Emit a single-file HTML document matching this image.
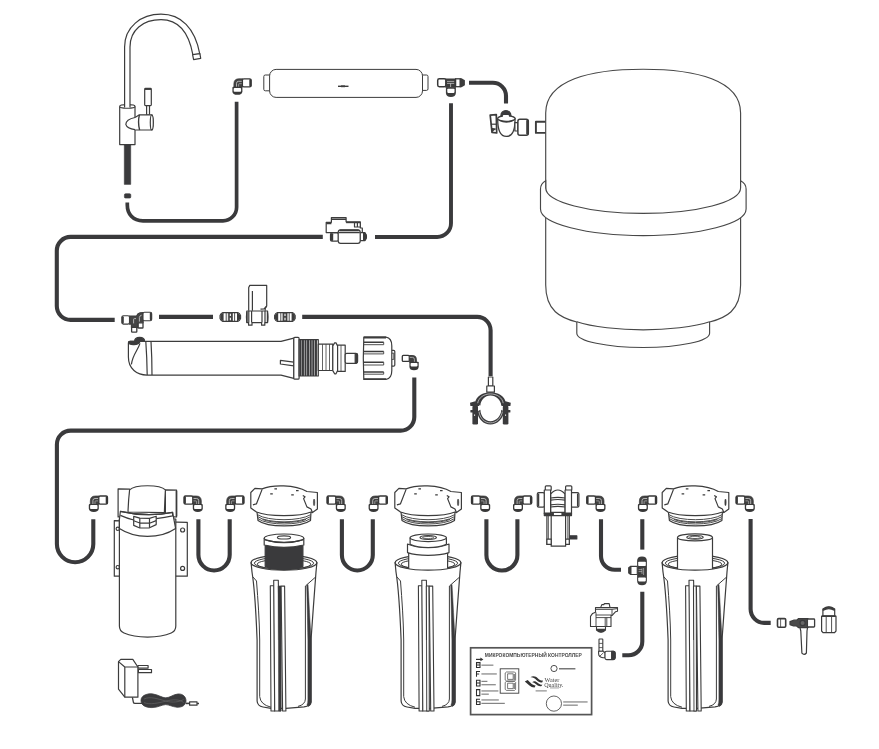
<!DOCTYPE html>
<html><head><meta charset="utf-8"><title>RO system diagram</title>
<style>html,body{margin:0;padding:0;background:#fff;font-family:"Liberation Sans",sans-serif}svg{display:block}</style>
</head><body>
<svg width="879" height="749" viewBox="0 0 879 749">
<rect width="879" height="749" fill="#fff"/>
<defs>
<filter id="gs" x="-5%" y="-20%" width="110%" height="140%"><feColorMatrix type="saturate" values="0"/></filter>
<g id="elb">
 <path d="M1.9,9.4 V5.8 Q1.9,.8 7,.8 H10.8 V9 H9.8 V9.4 Z" fill="#424242" stroke="#383838" stroke-width=".7" stroke-linejoin="round"/>
 <path d="M4.5,8.8 V5.4 Q4.5,3.3 6.6,3.3 H10.2" fill="none" stroke="#cfcfcf" stroke-width=".8"/>
 <path d="M6.6,8.8 V6.5 Q6.6,5.7 7.4,5.7 H10.2" fill="none" stroke="#b5b5b5" stroke-width=".7"/>
 <rect x="10.4" y=".8" width="8.7" height="8.1" rx="1.4" fill="#fff" stroke="#363636" stroke-width="1.3"/>
 <rect x="17.3" y="1" width="2.2" height="7.7" rx=".9" fill="#363636"/>
 <path d="M.4,9.7 Q.4,8.7 1.4,8.7 H9.4 Q10.4,8.7 10.4,9.7 V13.4 Q10.2,16.8 5.4,16.8 Q.6,16.8 .4,13.4 Z" fill="#383838"/>
 <rect x="1.7" y="9.9" width="7.4" height="3.9" rx=".8" fill="#fff"/>
</g>
</defs>
<path d="M127.3,202.6 V205 C127.3,214 133,220.8 143,220.8 H223 A13.6,13.6 0 0 0 236.6,207.2 V101.8" fill="none" stroke="#3a3a3c" stroke-width="3.7"/>
<path d="M451,103.3 V223.2 A13.8,13.8 0 0 1 437.2,237 H375" fill="none" stroke="#3a3a3c" stroke-width="3.9"/>
<path d="M469,82.8 H492.8 A13.2,13.2 0 0 1 506,96 V103.6" fill="none" stroke="#3a3a3c" stroke-width="4.1"/>
<path d="M322.8,236.9 H70.6 A13.8,13.8 0 0 0 56.8,250.7 V306.1 A13.8,13.8 0 0 0 70.6,319.9 H114.7" fill="none" stroke="#3a3a3c" stroke-width="4.1"/>
<path d="M159,316.9 H213" fill="none" stroke="#3a3a3c" stroke-width="4.1"/>
<path d="M302.2,316.9 H477.2 A13.4,13.4 0 0 1 490.6,330.3 V376" fill="none" stroke="#3a3a3c" stroke-width="4.1"/>
<path d="M414.3,377.5 V417 A13.6,13.6 0 0 1 400.7,430.6 H70.7 A13.8,13.8 0 0 0 56.9,444.4 V544 A18.2,18.2 0 0 0 93.3,544 V519.2" fill="none" stroke="#3a3a3c" stroke-width="4.1"/>
<path d="M198.4,519.2 V554.8 A15.65,15.65 0 0 0 229.7,554.8 V519.2" fill="none" stroke="#3a3a3c" stroke-width="4.1"/>
<path d="M341.9,519.2 V555 A15.45,15.45 0 0 0 372.8,555 V519.2" fill="none" stroke="#3a3a3c" stroke-width="4.1"/>
<path d="M486.4,519.2 V555 A15.5,15.5 0 0 0 517.4,555 V519.2" fill="none" stroke="#3a3a3c" stroke-width="4.1"/>
<path d="M601,519.2 V556 A13.8,13.8 0 0 0 614.8,569.8 H621" fill="none" stroke="#3a3a3c" stroke-width="4.1"/>
<path d="M642.3,519.2 V549.6" fill="none" stroke="#3a3a3c" stroke-width="4.1"/>
<path d="M642.3,591.8 V641.5 A13.8,13.8 0 0 1 628.5,655.3 H622.3" fill="none" stroke="#3a3a3c" stroke-width="4.1"/>
<path d="M750.6,519 V609.1 A13.8,13.8 0 0 0 764.4,622.9 H770.7" fill="none" stroke="#3a3a3c" stroke-width="4.1"/>
<g fill="#fff" stroke="#3c3c3c" stroke-width="1.2" stroke-linejoin="round">
<path d="M119.7,106.5 V144.6 H135 V106.5"/>
<ellipse cx="127.35" cy="106.4" rx="7.65" ry="1.7"/>
<path d="M124.6,107.4 V47 C124.6,27 141,14.2 161,14.2 C181,14.2 195,28 199.8,54 L192.9,54.9 C188.5,31 177,19.7 161,19.7 C143,19.7 130,30 130,47 V107.4" />
<path d="M192.6,54.6 L199.9,53.6 L200.7,58.4 L193.6,59.6 Z"/>
<rect x="144.7" y="88.4" width="6.6" height="17.2" rx=".8"/>
<path d="M145,89.2 H151" stroke-width="1.5"/>
<rect x="146.6" y="105.6" width="2.9" height="9.6"/>
<path d="M135,117.5 L139.4,114.8 H152 Q154.2,122 152,130 H135"/>
<ellipse cx="151.8" cy="122.4" rx="1.5" ry="7.4"/>
<path d="M139.4,114.8 Q137.6,122 139.6,130" fill="none" stroke-width="1.4"/>
<path d="M135,117.5 Q126,119.4 125.8,124.4 Q127,128.6 135,129.6" />
<rect x="124.3" y="145" width="6.4" height="39.4" fill="#3a3a3c" stroke="#3a3a3c" stroke-width=".6"/>
<rect x="124.4" y="193.7" width="6.4" height="4.4" rx="1.2" fill="#3a3a3c" stroke="#3a3a3c" stroke-width=".6"/>
</g>
<use href="#elb" transform="translate(232,78)"/>
<use href="#elb" transform="translate(88.4,495.2)"/>
<use href="#elb" transform="translate(203.2,495.2) scale(-1,1)"/>
<use href="#elb" transform="translate(224.8,495.2)"/>
<use href="#elb" transform="translate(346.20000000000005,495.2) scale(-1,1)"/>
<use href="#elb" transform="translate(368.2,495.2)"/>
<use href="#elb" transform="translate(490.6,495.2) scale(-1,1)"/>
<use href="#elb" transform="translate(512.6,495.2)"/>
<use href="#elb" transform="translate(605.9,495.2) scale(-1,1)"/>
<use href="#elb" transform="translate(637.5,495.2)"/>
<use href="#elb" transform="translate(755.2,495.2) scale(-1,1)"/>
<g fill="#fff" stroke="#3c3c3c" stroke-width="1">
<rect x="263.8" y="75" width="8" height="15.8" rx="1.5"/>
<rect x="420" y="75" width="8" height="15.4" rx="1.5"/>
<rect x="269.6" y="69.4" width="152.9" height="28" rx="6.5"/>
<path d="M338,86.3 H348.5" stroke-width="1.4"/><rect x="341" y="85.4" width="4" height="1.8" fill="#3c3c3c" stroke="none"/>
</g>
<g>
<rect x="437.7" y="78.8" width="8.2" height="7.9" rx="1.6" fill="#fff" stroke="#383838" stroke-width="1.5"/>
<rect x="445.4" y="78.5" width="10.4" height="9.4" fill="#3c3c3c"/>
<path d="M447,81.4 H454.2 M447,83.4 H454.2 M450.6,83.4 V87" stroke="#d5d5d5" stroke-width=".7" fill="none"/>
<rect x="455.6" y="78.8" width="4.6" height="7.9" fill="#fff" stroke="#383838" stroke-width="1.3"/>
<path d="M459.9,78.3 H461.6 L464.9,80.3 V85.3 L461.6,87.3 H459.9 Z" fill="#3c3c3c"/>
<path d="M445.9,87.6 H455.9 V93 Q455.6,96.9 450.9,96.9 Q446.2,96.9 445.9,93 Z" fill="#3c3c3c"/>
<rect x="447.3" y="88.8" width="7.2" height="4.1" rx=".8" fill="#fff"/>
</g>
<g fill="#fff" stroke="#3c3c3c" stroke-width="1.2" stroke-linejoin="round">
<path d="M490.2,115.2 L496.3,114.6 L496.7,133 L492,132.3 Z" stroke-width="1.7"/>
<path d="M490.8,124.2 H496.6" stroke-width="1.2"/>
<path d="M495.8,129 L492.2,128.6 L492.6,131.8" fill="#3c3c3c"/>
<path d="M500.9,118 V115.5 A5,5 0 0 1 510.9,115.5 V118 Z" fill="#3a3a3c"/>
<path d="M497.7,118.5 Q497.5,136.4 506.4,136.4 Q515.3,136.4 515,118.5 Z" stroke-width="1.3"/>
<ellipse cx="506.4" cy="118.6" rx="8.7" ry="2.7"/>
<rect x="502.8" y="115" width="6.2" height="2.6" rx="1" stroke="none"/>
<path d="M499.2,120.2 Q506.4,123.8 513.6,120.2" fill="none" stroke-width="1.5"/>
<rect x="514.9" y="122.7" width="3" height="8.3"/>
<rect x="517.9" y="119.3" width="10.4" height="16" rx="2" stroke-width="1.5"/>
<rect x="526.2" y="119.8" width="2.6" height="15" rx="1.2" fill="#3c3c3c" stroke="none"/>
<path d="M546.5,121.7 H535.9 V132.9 H546.5" fill="#fff" stroke-width="1.9"/>
</g>
<g fill="#fff" stroke="#474747" stroke-width="1.15">
<path d="M545.7,192 V113 C545.7,80 590,69.2 643.1,69.2 C696,69.2 740.6,80 740.6,113 V192"/>
<path d="M545.7,214 V285 C545.7,311 561,318 576.8,322 V333.2 A66.4,14.3 0 0 0 709.6,333.2 V322 C725.5,318 740.6,311 740.6,285 V214 Z"/>
<path d="M576.8,321.8 C592,327 620,329.8 643.2,329.8 C666,329.8 695,327 709.6,321.8" fill="none"/>
<path d="M545.7,180.7 C541.5,183 540.5,186 540.5,189 V209 A102.8,26.6 0 0 0 746.1,209 V189 C746.1,186 745,183 740.6,180.7 V188 A97.45,25.4 0 0 1 545.7,188 Z"/>
</g>
<g fill="#fff" stroke="#3c3c3c" stroke-width="1.2" stroke-linejoin="round">
<path d="M326.2,222.3 H331.4 V217.6 H346.1 V221.8 H360.3 V228 H362.3 V232.6 H326.2 Z"/>
<path d="M331.4,219.2 H346.1 M326.2,223.6 H331.4" stroke-width="1.4"/>
<path d="M346.1,222.5 H360.3" stroke-width="1.4"/>
<rect x="354.5" y="222.6" width="5.8" height="4.4"/>
<path d="M357.4,222.6 V227"/>
<rect x="330.5" y="233" width="8" height="8.2" rx="1.5"/><rect x="330.6" y="233.3" width="2.6" height="7.6" rx="1" fill="#3c3c3c" stroke="none"/>
<path d="M360,232.6 H364.8 Q368,236.5 364.8,240.6 H360 Z"/><path d="M363.6,232.8 H364.8 Q368,236.5 364.8,240.4 H363.6 Z" fill="#3c3c3c"/>
<rect x="338.2" y="229.8" width="22" height="13.6" rx="2.4"/>
<path d="M338.6,232.6 H359.8" stroke-width="1.3"/>
<path d="M339.6,230.4 H358.8" stroke-width="1.8"/>
</g>
<g fill="#fff" stroke="#3c3c3c" stroke-width="1.1" stroke-linejoin="round">
<path d="M129.4,316 H136.6 Q137.4,313.4 140,312.8 L143.2,312.5 V322.8 H137.6 V327.6 H131.4 V324.1 H129.4 Z" fill="#454545"/>
<path d="M133.6,323.4 V319.4 Q133.6,318.6 134.6,318.6 H136 M139.4,321.6 V317.4 Q139.6,315.6 141.6,315.2" stroke="#cfcfcf" stroke-width=".8" fill="none"/>
<rect x="121.9" y="315.8" width="7.6" height="8.3" rx="1.5"/><rect x="121.6" y="316.2" width="2.2" height="7.5" rx="1" fill="#3c3c3c" stroke="none"/>
<rect x="143" y="312.2" width="8.7" height="8.5" rx="1.5"/><rect x="149.8" y="312.6" width="2.2" height="7.7" rx="1" fill="#3c3c3c" stroke="none"/>
<rect x="131.6" y="327.4" width="5.2" height="4.8" rx=".6" stroke-width="1.3"/>
<rect x="138.2" y="322.8" width="4.8" height="5.2" rx=".6" stroke-width="1.3"/>
</g>
<g transform="translate(219.4,312.4)" fill="#fff" stroke="#3c3c3c" stroke-width="1.1" stroke-linejoin="round">
<path d="M3.4,.2 H18.4 Q20.4,1 21.2,3 V6.2 Q20.4,8.2 18.4,9 H3.4 Q1.4,8.2 .6,6.2 V3 Q1.4,1 3.4,.2 Z"/>
<path d="M3.4,.5 Q1.6,1.2 .9,3 V6.2 Q1.6,8 3.4,8.7 H4.2 V.5 Z M18.4,.5 Q20.2,1.2 20.9,3 V6.2 Q20.2,8 18.4,8.7 H17.6 V.5 Z" fill="#3c3c3c" stroke="none"/>
<rect x="8.9" y=".3" width="4.2" height="8.6" fill="#454545" stroke-width=".6"/>
<path d="M11,1.4 V3.6 M11,5.4 V7.8" stroke="#eee" stroke-width="1.2"/>
<path d="M6.8,.4 V8.8 M15.2,.4 V8.8" stroke-width=".9"/>
</g>
<g transform="translate(274,312.4)" fill="#fff" stroke="#3c3c3c" stroke-width="1.1" stroke-linejoin="round">
<path d="M3.4,.2 H18.4 Q20.4,1 21.2,3 V6.2 Q20.4,8.2 18.4,9 H3.4 Q1.4,8.2 .6,6.2 V3 Q1.4,1 3.4,.2 Z"/>
<path d="M3.4,.5 Q1.6,1.2 .9,3 V6.2 Q1.6,8 3.4,8.7 H4.2 V.5 Z M18.4,.5 Q20.2,1.2 20.9,3 V6.2 Q20.2,8 18.4,8.7 H17.6 V.5 Z" fill="#3c3c3c" stroke="none"/>
<rect x="8.9" y=".3" width="4.2" height="8.6" fill="#454545" stroke-width=".6"/>
<path d="M11,1.4 V3.6 M11,5.4 V7.8" stroke="#eee" stroke-width="1.2"/>
<path d="M6.8,.4 V8.8 M15.2,.4 V8.8" stroke-width=".9"/>
</g>
<g fill="#fff" stroke="#3c3c3c" stroke-width="1.2" stroke-linejoin="round">
<path d="M248.7,310.8 V287.5 L249.8,285.4 H266.7 V306 L265.2,308.5 V310.8"/>
<path d="M252.4,291 V310.8" stroke-width="1.2"/>
<path d="M266.7,306 L264,309 L260.5,309.2" />
<path d="M246.8,311 H267.6 V322.6 H264.8 V325.2 H261.6 V322.6 H252 V325.2 H248.6 V322.6 H246.8 Z"/>
<path d="M247,312 Q245.9,317 247,322.4 Z M267.4,312 Q268.5,317 267.4,322.4 Z" fill="#3c3c3c"/>
<path d="M248.8,311 V322.6 M251.6,311 V322.6 M262,311 V322.6 M265,311 V322.6"/>
</g>
<g fill="#fff" stroke="#3c3c3c" stroke-width="1.2" stroke-linejoin="round">
<path d="M134.6,341.4 Q134.6,337.4 139.6,337.4 Q144.6,337.4 144.6,341.4 Z" fill="#3a3a3c"/>
<path d="M128.4,343 Q128.4,341.4 130,341.4 H281 L293.8,338.2 V378.4 L281,375.1 H147 C137,375.1 128.4,369 128.4,357 Z"/>
<path d="M128.5,342.6 Q129,344.8 134,344.6 Q138.4,344.2 139.6,342.4 L139.6,341.4 H130 Q128.5,341.4 128.5,342.6 Z" fill="#3a3a3c"/>
<path d="M140,343.4 C138,350 132.4,355 131.4,364.4" fill="none"/>
<path d="M145.8,341.4 Q147,358 147.2,375.1 M151,341.4 Q152,358 152,375.1" fill="none"/>
<path d="M280.4,360.4 L293.8,362.2 V365.8 L280.4,364 Z"/>
<rect x="293.8" y="337.4" width="5.3" height="41.8" rx="1"/>
<rect x="299.1" y="339.6" width="19.2" height="36.4" fill="#fff"/>
<path d="M300.4,339.6 V376 M302.9,339.6 V376 M305.5,339.6 V376 M308.1,339.6 V376 M310.7,339.6 V376 M313.3,339.6 V376 M315.9,339.6 V376" stroke="#3a3a3c" stroke-width="2.1"/>
<rect x="318.3" y="344.2" width="14.5" height="26.3"/>
<path d="M322.5,344.2 V370.5 M326,344.2 V370.5 M329.5,344.2 V370.5" stroke-width=".8"/>
<path d="M332.8,346 L334.6,342.9 H336 L337.6,346 V370.6 L336,373.8 H334.6 L332.8,370.6 Z"/>
<rect x="337.6" y="345.2" width="7.6" height="26.2"/>
<path d="M341,345.2 V371.4" stroke-width=".8"/>
<rect x="345.2" y="353.3" width="12.2" height="10" rx="1.5"/>
<path d="M355.2,353.5 H356.4 Q357.6,354 357.6,355 V361.6 Q357.6,362.8 356.4,363.2 H355.2 Z" fill="#3c3c3c"/>
</g>
<g fill="#fff" stroke="#3c3c3c" stroke-width="1.2" stroke-linejoin="round">
<rect x="389.8" y="350.4" width="5" height="15.8" rx="1.2"/>
<rect x="391" y="353.2" width="2.8" height="6.2" stroke-width=".9"/>
<path d="M363.8,337.2 H386 Q391.8,338 391.8,346 V370.4 Q391.8,378.4 386,379.4 H363.8 Q362.8,358 363.8,337.2 Z"/>
<path d="M363.8,337.5 H386 M363.8,379.1 H386" stroke-width="1.9"/>
<path d="M364,342.3 H383.7 M364,351.5 H383.7 M364,362.3 H383.7 M364,372 H383.7" stroke-width="1.6"/>
<path d="M364,344.7 H383.7 V342.3 M364,353.9 H383.7 V351.5 M364,365 H383.7 V362.3 M364,374.2 H383.7 V372" fill="none" stroke-width=".9"/>
</g>
<g>
<rect x="402.3" y="355.4" width="7" height="6" rx="1" fill="#fff" stroke="#363636" stroke-width="1.3"/>
<path d="M409.1,354.9 H412 Q416.9,354.9 416.9,360 V362.6 H409.1 Z" fill="#404040"/>
<path d="M409.8,357.4 H412.6 Q414.4,357.4 414.4,359.4 V362" stroke="#cfcfcf" stroke-width=".7" fill="none"/>
<path d="M409.4,362.6 Q409.4,361.7 410.3,361.7 H417.8 Q418.7,361.7 418.7,362.6 V366.8 Q418.5,370.3 414,370.3 Q409.6,370.3 409.4,366.8 Z" fill="#383838"/>
<rect x="410.6" y="362.9" width="6.9" height="3.5" rx=".8" fill="#fff"/>
</g>
<g fill="#fff" stroke="#3c3c3c" stroke-width="1.2" stroke-linejoin="round">
<rect x="488.4" y="377" width="4.4" height="9"/>
<rect x="486.8" y="386" width="7.6" height="6.2"/>
</g>
<g fill="#3a3a3c">
<path d="M475.2,402.6 C476,396 483,392.3 490.4,392.3 C498,392.3 505,396 505.7,402.6 L501.3,405.5 C501,400 496,395.4 490.4,395.4 C485,395.4 480.6,400 480.4,405.5 Z"/>
<path d="M477.2,411.5 C478,419 483.6,424.6 490.4,424.6 C497.2,424.6 503,419 504.1,411.5 L501.3,409.8 C501,416.5 496,421.2 490.4,421.2 C485,421.2 480.6,416.5 480.4,409.8 Z"/>
<path d="M470,402.7 L475.3,401.3 L479.3,404.4 V405.9 H470.4 Z M510.8,402.7 L505.5,401.3 L501.5,404.4 V405.9 H510.4 Z"/>
<rect x="472.4" y="405.6" width="5.6" height="18.9" rx="1.3"/><rect x="502.8" y="405.6" width="5.6" height="18.9" rx="1.3"/>
<rect x="470.4" y="409.9" width="7.2" height="2.7" rx=".6"/><rect x="503.2" y="409.9" width="7.2" height="2.7" rx=".6"/>
</g>
<g fill="none" stroke="#dcdcdc" stroke-width=".7">
<path d="M477.7,403.2 C478.6,397.6 484,393.9 490.4,393.9 C497,393.9 502.3,397.6 503.2,403.2"/>
<path d="M479,411.6 C479.8,418 484.4,422.9 490.4,422.9 C496.4,422.9 501.2,418 502.4,411.6"/>
<path d="M474.6,414.4 V416 M505.6,414.4 V416" stroke-width="1"/>
</g>
<g fill="#fff" stroke="#3c3c3c" stroke-width="1.2" stroke-linejoin="round">
<path d="M114.3,520.6 L187.3,522.4 V576.2 H114.3 Z"/>
<circle cx="117.8" cy="528.8" r="1.7"/><circle cx="182.6" cy="530" r="2"/><circle cx="117.8" cy="567.2" r="1.7"/><circle cx="182.6" cy="568.4" r="2"/>
<path d="M119.4,519 V626 Q119.4,631 124,633 C136,638.4 159,638.4 171.2,633 Q175.8,631 175.8,626 V519 Z"/>
<path d="M118.1,488.8 L129.6,489.2 V516.9 H118.1 Z"/>
<path d="M165.4,489.8 L176.6,490.2 V516.9 H165.4 Z"/>
<path d="M176.4,491 V516" stroke-width="1.6"/>
<path d="M128,512 Q128.4,500 129.6,489.8 C135,484.4 160,484.4 165.4,489.8 Q164.8,500 164.4,512.6 Z"/>
<path d="M119.3,519 Q147,553.6 175.7,528" fill="none" stroke="none"/>
<path d="M119.4,519.4 L120.4,511.3 Q147,517.6 172.6,512.3 L175.6,528.4 C160,539 135,539 119.4,528.6 Z"/>
<path d="M120.4,511.3 Q147,517.6 172.6,512.3 V515.9 Q165,517.6 156.2,518.6 M120.4,515.4 Q127,518.4 133.7,520" fill="none"/>
<path d="M133.7,516.4 L139.8,518.2 L149.5,518.4 L156.2,516.2 V524.6 L149.5,527.8 L139.8,528 L133.7,525.4 Z"/>
<path d="M133.7,520.8 L139.8,523 L149.5,523.2 L156.2,520.6 M139.8,518.2 V528 M149.5,518.4 V527.8" fill="none"/>
</g>
<g fill="#fff" stroke="#3c3c3c" stroke-width="1.2" stroke-linejoin="round">
<path d="M137.9,665.5 H148.1 V668.1 H137.9 Z M138.4,669.5 H151.5 V672.7 H138.4 Z"/>
<path d="M118.5,661.6 L120.8,659.4 H132.8 L137.9,667 V697.2 H124.8 L118.5,689.2 Z"/>
<path d="M118.5,661.6 L124.8,667 H137.9 M124.8,667 V697.2" fill="none"/>
<path d="M132.4,697.4 L133.4,702.4 Q133.6,703.4 135,703.4 H142" fill="none" stroke-width="1.3"/>
<path d="M141,700.5 C141,695 148,693.2 153,694 C159,695 162,697.8 165.7,697.8 C170,697.8 173,694.4 178,694 C183,693.6 186,697 186,700.8 C186,705 182,707.6 177,707.2 C172,706.8 169,704.6 165.7,704.6 C162,704.6 158,707.6 152,707.6 C146,707.6 141,705.6 141,700.5 Z" fill="#3a3a3c" stroke="#3a3a3c" stroke-width=".8"/>
<path d="M144,699 C150,696 158,699 165.7,701 C172,703 180,702 183.6,699.4 M144,702.6 C150,705 158,703 165.7,701.2 C172,699.4 180,699 183.6,702.6" fill="none" stroke="#6a6a6a" stroke-width=".6"/>
<path d="M186,703.4 H190" stroke-width="1.6"/>
<path d="M189.6,701.8 H197 V705.2 H189.6 Z"/>
<path d="M197,703.5 H199" stroke-width="1.4"/>
</g>
<g transform="translate(0,0)" fill="#fff" stroke="#3c3c3c" stroke-width="1.2">
<ellipse cx="284" cy="562.7" rx="32.9" ry="7.5"/>
<ellipse cx="284" cy="563.2" rx="29.6" ry="6" fill="none" stroke-width="1"/><ellipse cx="284" cy="564.2" rx="26.8" ry="4.9" fill="none" stroke-width="1"/>
</g>
<g transform="translate(144,0)" fill="#fff" stroke="#3c3c3c" stroke-width="1.2">
<ellipse cx="284" cy="562.7" rx="32.9" ry="7.5"/>
<ellipse cx="284" cy="563.2" rx="29.6" ry="6" fill="none" stroke-width="1"/><ellipse cx="284" cy="564.2" rx="26.8" ry="4.9" fill="none" stroke-width="1"/>
</g>
<g transform="translate(411,0)" fill="#fff" stroke="#3c3c3c" stroke-width="1.2">
<ellipse cx="284" cy="562.7" rx="32.9" ry="7.5"/>
<ellipse cx="284" cy="563.2" rx="29.6" ry="6" fill="none" stroke-width="1"/><ellipse cx="284" cy="564.2" rx="26.8" ry="4.9" fill="none" stroke-width="1"/>
</g>
<g fill="#fff" stroke="#3c3c3c" stroke-width="1.2" stroke-linejoin="round">
<path d="M265.2,545.6 V566.4 Q284,574.4 302.9,566.4 V545.6 Z" fill="#3a3a3c" stroke="#3a3a3c"/>
<path d="M264.2,538.4 V545 Q284,549.6 303.8,545 V538.4 Z"/>
<ellipse cx="284" cy="538.2" rx="19.8" ry="4.2"/>
<path d="M264.6,539.6 Q284,545.6 303.4,539.6" fill="none" stroke-width="1.4"/>
<ellipse cx="284" cy="537.4" rx="6.6" ry="1.6"/>
</g>
<g fill="#fff" stroke="#3c3c3c" stroke-width="1.2" stroke-linejoin="round">
<path d="M408.7,552 V571 H447.6 V552 Z"/>
<path d="M407.5,544 V552.6 C418,556.2 438,556.2 449,552.6 V544 C438,548.8 418,548.8 407.5,544 Z"/>
<path d="M410.1,538 V544.2 C420,548.6 436,548.6 446.4,544.2 V538 Z"/>
<ellipse cx="428.25" cy="537.8" rx="18.15" ry="3.8"/>
<ellipse cx="428.2" cy="537.5" rx="8.2" ry="1.9"/>
<ellipse cx="428.2" cy="537.6" rx="5.8" ry="1.1" stroke-width=".8"/>
</g>
<g fill="#fff" stroke="#3c3c3c" stroke-width="1.2" stroke-linejoin="round">
<path d="M677.5,537.6 V571 H712.5 V537.6 Z"/>
<ellipse cx="695" cy="537.4" rx="17.5" ry="3.5"/>
<ellipse cx="695" cy="537.3" rx="8.2" ry="1.8"/>
<ellipse cx="695" cy="537.4" rx="5.8" ry="1.1" stroke-width=".8"/>
</g>
<g transform="translate(0,0)" fill="#fff" stroke="#3c3c3c" stroke-width="1.2" stroke-linejoin="round">
<path d="M251.1,562.7 A32.9,7.5 0 0 0 316.9,562.7 L316,572 C314.5,590 312.5,620 311,640 V702 Q310.6,706 304,706.8 L286,708.3 H271 L263,707 Q257.4,706 257.1,701 V640 C256,612 253.6,582 252,572 Z"/>
<path d="M253,577 L256.5,581 C258,600 259.4,620 259.7,640 V696.6 Q260.4,704.6 271,707.2" fill="none" stroke-width="1"/>
<path d="M315.2,577.4 L305.4,586 V699 Q305.2,704.6 298,706.4" fill="none" stroke-width="1"/>
<path d="M306.7,585.4 L308,584.4 C309,600 310,625 311.3,640 V702 Q311.2,705.4 308.4,706.4 L307,705 Q307.9,703 307.9,700 V640 C307.5,620 307.1,600 306.7,585.4 Z" fill="#3a3a3c" stroke="#3a3a3c" stroke-width=".5"/>
</g>
<g transform="translate(0,0)" fill="#fff" stroke="#3c3c3c" stroke-width="1.1" stroke-linejoin="round">
<path d="M270.3,585.8 L271,711 H274.6 L274.2,585.8 Z"/>
<path d="M273.7,580.3 L274.7,711 H280.6 L278.3,580.3 Z"/>
<path d="M278.2,586 L278.6,711 H281.2 L281,586 Z" fill="#3a3a3c" stroke-width="0.6"/>
<path d="M281.1,586.1 L282.6,711 H285.9 L284.6,586.1 Z"/>
<path d="M277.6,640 V710" stroke="#fff" stroke-width=".7"/>
</g>
<g transform="translate(0,0)" fill="#fff" stroke="#3c3c3c" stroke-width="1.2" stroke-linejoin="round">
<path d="M257,512 L258,520.4 C268,527.8 300,527.8 310.5,520.4 L311,512 Z"/>
<path d="M257.3,514.6 C268,521.4 300,521.4 310.8,514.6 M257.6,516.6 C268,523.6 300,523.6 310.6,516.6 M257.9,518.6 C268,525.8 300,525.8 310.5,518.6 M262.5,519.4 C272,523.6 296,523.6 306,519.4" fill="none" stroke-width="1" stroke="#4a4a4a"/>
<path d="M250.8,507.9 V492.5 L254.9,488.4 L262.1,488.9 C272,484.6 295,484.4 306.9,491.5 L317.4,492.5 V509 L312.5,512.6 L311,512 C300,516.8 268,516.8 256.5,512 Z"/>
<path d="M262.1,489.4 L256.5,503.8 L252.9,504.8 M302.8,495.4 L305,496.8 L303.6,498.6 L306.9,506.9 L311,509 L312.4,512.4" fill="none"/>
<ellipse cx="314.1" cy="502.4" rx=".7" ry="3.4" fill="#3c3c3c" stroke-width=".5"/>
<path d="M274.4,488.9 H277 M296,490.7 H298.6 M270.2,493.8 H272.8 M291.2,494.9 H293.8" stroke-width="1.3"/>
</g>
<g transform="translate(144,0)" fill="#fff" stroke="#3c3c3c" stroke-width="1.2" stroke-linejoin="round">
<path d="M251.1,562.7 A32.9,7.5 0 0 0 316.9,562.7 L316,572 C314.5,590 312.5,620 311,640 V702 Q310.6,706 304,706.8 L286,708.3 H271 L263,707 Q257.4,706 257.1,701 V640 C256,612 253.6,582 252,572 Z"/>
<path d="M253,577 L256.5,581 C258,600 259.4,620 259.7,640 V696.6 Q260.4,704.6 271,707.2" fill="none" stroke-width="1"/>
<path d="M315.2,577.4 L305.4,586 V699 Q305.2,704.6 298,706.4" fill="none" stroke-width="1"/>
<path d="M306.7,585.4 L308,584.4 C309,600 310,625 311.3,640 V702 Q311.2,705.4 308.4,706.4 L307,705 Q307.9,703 307.9,700 V640 C307.5,620 307.1,600 306.7,585.4 Z" fill="#3a3a3c" stroke="#3a3a3c" stroke-width=".5"/>
</g>
<g transform="translate(148.1,0)" fill="#fff" stroke="#3c3c3c" stroke-width="1.1" stroke-linejoin="round">
<path d="M270.3,585.8 L271,711 H274.6 L274.2,585.8 Z"/>
<path d="M273.7,580.3 L274.7,711 H280.6 L278.3,580.3 Z"/>
<path d="M278.2,586 L278.6,711 H281.2 L281,586 Z" fill="#fff" stroke-width="1.1"/>
<path d="M281.1,586.1 L282.6,711 H285.9 L284.6,586.1 Z"/>
<path d="M277.6,640 V710" stroke="#fff" stroke-width=".7"/>
</g>
<g transform="translate(144,0)" fill="#fff" stroke="#3c3c3c" stroke-width="1.2" stroke-linejoin="round">
<path d="M257,512 L258,520.4 C268,527.8 300,527.8 310.5,520.4 L311,512 Z"/>
<path d="M257.3,514.6 C268,521.4 300,521.4 310.8,514.6 M257.6,516.6 C268,523.6 300,523.6 310.6,516.6 M257.9,518.6 C268,525.8 300,525.8 310.5,518.6 M262.5,519.4 C272,523.6 296,523.6 306,519.4" fill="none" stroke-width="1" stroke="#4a4a4a"/>
<path d="M250.8,507.9 V492.5 L254.9,488.4 L262.1,488.9 C272,484.6 295,484.4 306.9,491.5 L317.4,492.5 V509 L312.5,512.6 L311,512 C300,516.8 268,516.8 256.5,512 Z"/>
<path d="M262.1,489.4 L256.5,503.8 L252.9,504.8 M302.8,495.4 L305,496.8 L303.6,498.6 L306.9,506.9 L311,509 L312.4,512.4" fill="none"/>
<ellipse cx="314.1" cy="502.4" rx=".7" ry="3.4" fill="#3c3c3c" stroke-width=".5"/>
<path d="M274.4,488.9 H277 M296,490.7 H298.6 M270.2,493.8 H272.8 M291.2,494.9 H293.8" stroke-width="1.3"/>
</g>
<g transform="translate(411,0)" fill="#fff" stroke="#3c3c3c" stroke-width="1.2" stroke-linejoin="round">
<path d="M251.1,562.7 A32.9,7.5 0 0 0 316.9,562.7 L316,572 C314.5,590 312.5,620 311,640 V702 Q310.6,706 304,706.8 L286,708.3 H271 L263,707 Q257.4,706 257.1,701 V640 C256,612 253.6,582 252,572 Z"/>
<path d="M253,577 L256.5,581 C258,600 259.4,620 259.7,640 V696.6 Q260.4,704.6 271,707.2" fill="none" stroke-width="1"/>
<path d="M315.2,577.4 L305.4,586 V699 Q305.2,704.6 298,706.4" fill="none" stroke-width="1"/>
<path d="M306.7,585.4 L308,584.4 C309,600 310,625 311.3,640 V702 Q311.2,705.4 308.4,706.4 L307,705 Q307.9,703 307.9,700 V640 C307.5,620 307.1,600 306.7,585.4 Z" fill="#3a3a3c" stroke="#3a3a3c" stroke-width=".5"/>
</g>
<g transform="translate(415.3,0)" fill="#fff" stroke="#3c3c3c" stroke-width="1.1" stroke-linejoin="round">
<path d="M270.3,585.8 L271,711 H274.6 L274.2,585.8 Z"/>
<path d="M273.7,580.3 L274.7,711 H280.6 L278.3,580.3 Z"/>
<path d="M278.2,586 L278.6,711 H281.2 L281,586 Z" fill="#fff" stroke-width="1.1"/>
<path d="M281.1,586.1 L282.6,711 H285.9 L284.6,586.1 Z"/>
<path d="M277.6,640 V710" stroke="#fff" stroke-width=".7"/>
</g>
<g transform="translate(411.4,0)" fill="#fff" stroke="#3c3c3c" stroke-width="1.2" stroke-linejoin="round">
<path d="M257,512 L258,520.4 C268,527.8 300,527.8 310.5,520.4 L311,512 Z"/>
<path d="M257.3,514.6 C268,521.4 300,521.4 310.8,514.6 M257.6,516.6 C268,523.6 300,523.6 310.6,516.6 M257.9,518.6 C268,525.8 300,525.8 310.5,518.6 M262.5,519.4 C272,523.6 296,523.6 306,519.4" fill="none" stroke-width="1" stroke="#4a4a4a"/>
<path d="M250.8,507.9 V492.5 L254.9,488.4 L262.1,488.9 C272,484.6 295,484.4 306.9,491.5 L317.4,492.5 V509 L312.5,512.6 L311,512 C300,516.8 268,516.8 256.5,512 Z"/>
<path d="M262.1,489.4 L256.5,503.8 L252.9,504.8 M302.8,495.4 L305,496.8 L303.6,498.6 L306.9,506.9 L311,509 L312.4,512.4" fill="none"/>
<ellipse cx="314.1" cy="502.4" rx=".7" ry="3.4" fill="#3c3c3c" stroke-width=".5"/>
<path d="M274.4,488.9 H277 M296,490.7 H298.6 M270.2,493.8 H272.8 M291.2,494.9 H293.8" stroke-width="1.3"/>
</g>
<g fill="#fff" stroke="#3c3c3c" stroke-width="1.2" stroke-linejoin="round">
<rect x="537.3" y="492.6" width="7.2" height="14.5" rx="1.4"/>
<rect x="570.9" y="492.6" width="8" height="14.5" rx="1.4"/>
<path d="M538.6,493.4 V506.4 M577.6,493.4 V506.4" stroke-width="1.3"/>
<path d="M550.6,512.4 V494 Q557.8,486 565.1,494 V512.4 Z"/>
<path d="M550.6,498 Q557.8,496.6 565.1,498 M550.6,500.2 Q557.8,498.8 565.1,500.2 M550.6,504.9 Q557.8,503.6 565.1,504.9 M550.6,507 Q557.8,505.8 565.1,507" fill="none"/>
<rect x="545.3" y="485.8" width="5.9" height="4.8" rx="1"/><rect x="565.6" y="485.8" width="6.2" height="4.8" rx="1"/>
<rect x="544.3" y="490" width="6.3" height="23.6"/><rect x="565.1" y="490" width="6.4" height="23.6"/>
<rect x="544.3" y="513.2" width="9" height="2.4" fill="#3a3a3c"/><rect x="562" y="513.2" width="9.5" height="2.4" fill="#3a3a3c"/>
<rect x="569.6" y="535.8" width="7.2" height="3.2" fill="#3a3a3c" stroke="#3a3a3c"/>
<rect x="546.9" y="515.6" width="22.4" height="28.8"/>
<path d="M548.4,515.6 V539 M567.8,515.6 V539" stroke-width=".8"/>
<rect x="551.2" y="515.6" width="14.4" height="30.6"/>
<rect x="546.9" y="539.1" width="4.3" height="5.3"/><rect x="565.6" y="539.1" width="3.7" height="5.3"/>
</g>
<g>
<path d="M637.1,561 Q637.2,556.6 642,556.6 Q646.8,556.6 646.9,561 V581 Q646.8,585.2 642,585.2 Q637.2,585.2 637.1,581 Z" fill="#3c3c3c"/>
<rect x="638.2" y="561.8" width="7.6" height="4.2" rx=".8" fill="#fff"/>
<rect x="638.2" y="577.4" width="7.6" height="4" rx=".8" fill="#fff"/>
<path d="M638.6,569.6 H642 M638.6,571.6 H642 M642,568.4 V574 M643.6,568 V575" stroke="#cfcfcf" stroke-width=".6" fill="none"/>
<path d="M637.3,565.8 H630.4 L628.1,567.6 V573.2 L630.4,575 H637.3 Z" fill="#3c3c3c"/>
<rect x="631.5" y="567" width="5.2" height="7" fill="#fff"/>
</g>
<g fill="#fff" stroke="#3c3c3c" stroke-width="1.1" stroke-linejoin="round">
<path d="M600.6,607.6 L601.8,604.6 H603.8 L604.4,603.6 H609.2 L610,607.6 Z"/>
<path d="M595.5,607.6 H617.5 V611.2 L615.4,611.8 L612.2,615.4 H611 V626.5 H590.5 V616.4 L592.6,613.4 L595.5,612.2 Z"/>
<path d="M595.8,609.4 H612 V615 M612,609.4 L617.3,608.6 M595.8,615 H611 M596,612.4 V626.3 M596,617.6 H611 M605.2,617.6 V626.3 M606.8,617.6 V626.3" fill="none" stroke-width=".9"/>
<path d="M596.5,626.5 H605.5 V630 Q601,634.6 596.5,630 Z"/>
<path d="M596.7,629.4 Q601,634.4 605.3,629.4 Z" fill="#3a3a3c"/>
<rect x="599" y="639" width="3.8" height="12.4" rx=".5"/>
<path d="M599,643.4 H602.8 M599,647.6 H602.8" stroke-width=".8"/>
<path d="M598.6,651.2 H603.4 L605.2,653 V657.8 H603 Q598.6,657.4 598.6,653.6 Z"/>
<path d="M599.6,656.4 L603.6,652.6" stroke-width=".8"/>
<rect x="605" y="651.2" width="10" height="8.4" rx="1.6"/>
<path d="M611.6,651.4 H613.6 Q615.2,651.6 615.2,653 V657.8 Q615.2,659.2 613.6,659.4 H611.6 Z" fill="#3a3a3c"/>
</g>
<g fill="#fff" stroke="#3c3c3c" stroke-width="1.2" stroke-linejoin="round">
<rect x="777.5" y="618.6" width="8.2" height="8.6" rx="1.2" stroke-width="1.6"/>
<path d="M780.6,618.6 V627.2" stroke-width=".8"/>
<path d="M799.6,626 L800.8,631 L801.9,653.2 Q804.2,655.6 806.4,653 L807,631 L807.8,626 Z"/>
<path d="M790,621.6 L793.6,620.2 H796.6 L798.4,618.6 H808 V627.6 H798.4 L796.6,626 H793.6 L790,624.6 Z" fill="#4a4a4a"/>
<rect x="807.4" y="619" width="7.2" height="8" rx=".8" stroke-width="1.3"/>
<circle cx="802.6" cy="623" r="2.6" fill="#666" stroke="#3a3a3c"/>
<path d="M822.9,616.2 V609 Q828.8,604.6 834.7,609 V616.2 Z"/>
<path d="M823.3,609.4 Q828.8,605 834.3,609.4 L834.3,610.2 Q828.8,607 823.3,610.2 Z" fill="#3a3a3c"/>
<path d="M821.6,616.2 H836 V631 L834.6,632.6 H823 L821.6,631 Z"/>
<path d="M826.2,616.2 V632.6 M831.6,616.2 V632.6" stroke-width=".9"/>
<path d="M822,616.2 H835.6" stroke-width="1.6"/>
</g>
<g fill="#fff" stroke="#3c3c3c" stroke-width="1">
<rect x="470.6" y="647.8" width="121" height="66.8" stroke="#555" stroke-width="1.7"/>
<rect x="500.2" y="668.8" width="18.6" height="24.4" stroke-width=".9"/>
<circle cx="554" cy="668.5" r="3.1" stroke-width=".9"/>
<circle cx="553.9" cy="703.6" r="7.6" stroke-width=".8"/>
</g>
<text filter="url(#gs)" x="533.3" y="656.8" font-family="Liberation Sans, sans-serif" font-weight="bold" font-size="4.5" text-anchor="middle" fill="#484848" textLength="97" lengthAdjust="spacingAndGlyphs">МИКРОКОМПЬЮТЕРНЫЙ КОНТРОЛЛЕР</text>
<g fill="none" stroke="#555" stroke-width=".8" stroke-linejoin="round">
<path d="M506.4,672 H514.6 L515.6,673 V680 L514.6,681 H506.4 L505.2,680 V673 Z M506.4,681.4 H514.6 L515.6,682.4 V689.4 L514.6,690.4 H506.4 L505.2,689.4 V682.4 Z"/>
<path d="M507.6,673.8 H513.2 V679.4 H507.6 Z M507.6,683.2 H513.2 V688.6 H507.6 Z"/>
</g>
<path d="M513.4,674 H515.4 V680 H513.4 Z M513.4,683 H515.4 V689 H513.4 Z" fill="#888"/>
<g fill="none" stroke="#2e2e2e" stroke-width="1.05">
<path d="M476,659.4 H481.6" stroke-width="1.2"/><path d="M480.4,657.6 L483.4,659.4 L480.4,661.2 Z" fill="#333" stroke="none"/>
<path d="M476.5,662.6 H480 V667.4 H476.5 Z M476.5,665 H480"/>
<path d="M480,671.4 H476.5 V676.8 M476.5,674 H479.2"/>
<path d="M476.5,680.2 H480 V686 H476.5 Z M476.5,683 H480"/>
<path d="M476.5,689.6 H479.8 V695.6 H476.5 Z"/>
<path d="M480,699.2 H476.5 V704.4 H480 V701.8 H476.5"/>
</g>
<g fill="#777">
<rect x="481.4" y="664.6" width="12" height="1.1"/>
<rect x="481.4" y="673.4" width="15.4" height="1.1"/>
<rect x="481.4" y="680.8" width="6" height="1.1"/><rect x="481.4" y="684.2" width="14.4" height="1.1"/>
<rect x="481.4" y="690.4" width="17" height="1.1"/><rect x="481.4" y="693.6" width="7.4" height="1.1"/>
<rect x="481.4" y="699.4" width="17.4" height="1.1"/><rect x="481.4" y="702.8" width="23.4" height="1.1"/>
<rect x="559" y="668" width="16.4" height="1.5"/>
<rect x="563.2" y="701.4" width="24.4" height="1.1"/><rect x="563.2" y="704.6" width="14.6" height="1.1"/>
<rect x="535.6" y="690.4" width="11.2" height="1"/><rect x="550" y="687.6" width="9" height=".7"/>
</g>
<g fill="#333">
<path d="M530.2,677.4 C533,675.4 536,676.4 538,678.4 C540,680.2 541.4,681 542.9,680.4 L542.4,682.2 C540.6,683 538.4,682 536.4,680 C534.4,678 532.6,677 530.2,677.4 Z"/>
<path d="M524.8,681.4 L527.6,680 C530,682.2 532.2,685.2 535.6,685.4 L534.6,687.4 C531,687.6 528,684 524.8,681.4 Z"/>
<path d="M532.2,682.2 C534,680.6 536,681.4 537.6,682.8 C539.4,684.4 540.8,685 542.3,684.4 L541.6,686 C539.8,686.8 538,686 536.4,684.6 C535,683.2 533.8,682.2 532.2,682.2 Z"/>
</g>
<text filter="url(#gs)" x="544.6" y="681.7" font-family="Liberation Serif, serif" font-size="5.8" fill="#444" textLength="14.6" lengthAdjust="spacingAndGlyphs">Water</text>
<text filter="url(#gs)" x="544.2" y="687.4" font-family="Liberation Serif, serif" font-size="5.8" fill="#444" textLength="19.2" lengthAdjust="spacingAndGlyphs">Quality.</text>
</svg>
</body></html>
